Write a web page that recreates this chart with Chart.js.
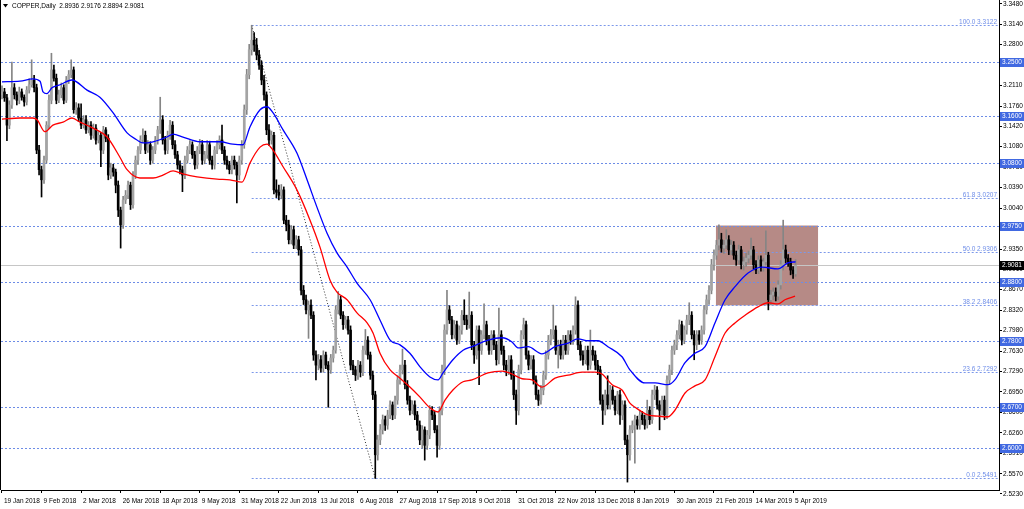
<!DOCTYPE html>
<html>
<head>
<meta charset="utf-8">
<script src="https://cdn.jsdelivr.net/npm/chart.js@4.4.1/dist/chart.umd.min.js"></script>
<style>
  html, body { margin: 0; padding: 0; background: #fff; }
  #wrap { width: 1024px; height: 509px; }
</style>
</head>
<body>
<div id="wrap"><canvas id="chart" width="1024" height="509"></canvas></div>
<script>
// COPPER daily, 19 Jan 2018 .. Apr 2019 (one entry per bar)
const opens = [
3.195,3.200,3.190,3.144,3.178,3.207,3.195,3.186,3.200,3.191,3.183,3.203,3.212,3.220,3.207,3.102,
3.069,3.052,3.085,3.144,3.186,3.237,3.223,3.186,3.195,3.207,3.186,3.220,3.229,3.237,3.170,3.173,
3.156,3.144,3.153,3.136,3.144,3.127,3.139,3.119,3.127,3.102,3.136,3.122,3.060,3.072,3.065,3.043,
3.001,2.976,3.018,3.026,3.043,3.010,3.060,3.085,3.102,3.119,3.127,3.102,3.111,3.085,3.102,3.119,
3.136,3.153,3.119,3.102,3.127,3.144,3.111,3.094,3.077,3.069,3.060,3.085,3.102,3.111,3.094,3.077,
3.102,3.111,3.085,3.094,3.111,3.085,3.077,3.102,3.111,3.119,3.102,3.085,3.077,3.069,3.085,3.077,
3.060,3.085,3.111,3.170,3.229,3.271,3.287,3.279,3.262,3.245,3.220,3.195,3.136,3.119,3.127,3.035,
3.031,3.026,3.035,2.984,2.976,2.951,2.968,2.942,2.951,2.934,2.866,2.850,2.833,2.841,2.824,2.757,
2.740,2.749,2.735,2.757,2.740,2.732,2.752,2.765,2.833,2.850,2.824,2.808,2.816,2.799,2.740,2.732,
2.723,2.740,2.728,2.765,2.782,2.757,2.723,2.690,2.589,2.614,2.631,2.648,2.639,2.656,2.673,2.656,
2.681,2.715,2.732,2.740,2.707,2.681,2.664,2.673,2.656,2.639,2.614,2.631,2.605,2.622,2.664,2.656,
2.631,2.605,2.664,2.732,2.799,2.833,2.816,2.791,2.808,2.782,2.799,2.824,2.816,2.808,2.824,2.774,
2.757,2.799,2.765,2.791,2.808,2.782,2.765,2.791,2.774,2.749,2.791,2.765,2.740,2.732,2.749,2.723,
2.690,2.664,2.732,2.791,2.808,2.757,2.740,2.749,2.715,2.690,2.681,2.698,2.723,2.757,2.782,2.791,
2.799,2.765,2.774,2.757,2.782,2.765,2.791,2.782,2.799,2.841,2.774,2.757,2.749,2.765,2.740,2.765,
2.757,2.740,2.732,2.681,2.664,2.690,2.673,2.698,2.681,2.664,2.690,2.656,2.673,2.614,2.589,2.631,
2.639,2.648,2.639,2.656,2.648,2.639,2.664,2.648,2.690,2.698,2.673,2.664,2.681,2.656,2.715,2.732,
2.765,2.774,2.791,2.808,2.782,2.799,2.816,2.824,2.791,2.774,2.791,2.782,2.799,2.833,2.850,2.866,
2.909,2.925,2.942,2.951,2.937,2.942,2.951,2.934,2.942,2.925,2.917,2.934,2.909,2.914,2.920,2.925,
2.934,2.909,2.900,2.917,2.904,2.914,2.925,2.850,2.858,2.863,2.856,2.875,2.909,2.934,2.920,2.914,2.900,2.8936
];
const highs = [
3.210,3.206,3.196,3.185,3.250,3.214,3.200,3.208,3.205,3.195,3.209,3.222,3.254,3.228,3.213,3.110,
3.075,3.092,3.150,3.195,3.265,3.245,3.230,3.203,3.215,3.212,3.226,3.236,3.254,3.242,3.182,3.180,
3.180,3.160,3.160,3.150,3.150,3.146,3.145,3.133,3.132,3.142,3.140,3.128,3.080,3.078,3.070,3.050,
3.006,3.024,3.034,3.050,3.048,3.066,3.092,3.108,3.126,3.138,3.134,3.118,3.116,3.108,3.125,3.142,
3.191,3.160,3.125,3.134,3.152,3.150,3.118,3.100,3.084,3.075,3.092,3.108,3.118,3.116,3.100,3.108,
3.120,3.118,3.100,3.118,3.117,3.092,3.108,3.118,3.126,3.144,3.108,3.092,3.083,3.092,3.092,3.082,
3.092,3.118,3.178,3.238,3.280,3.3122,3.300,3.290,3.270,3.252,3.228,3.200,3.145,3.134,3.132,3.052,
3.043,3.044,3.040,2.992,2.984,2.975,2.974,2.958,2.957,2.940,2.874,2.858,2.848,2.850,2.830,2.764,
2.758,2.756,2.764,2.762,2.746,2.758,2.772,2.840,2.864,2.856,2.830,2.822,2.822,2.806,2.748,2.738,
2.748,2.746,2.772,2.800,2.788,2.762,2.730,2.696,2.622,2.640,2.656,2.654,2.664,2.680,2.678,2.688,
2.722,2.740,2.767,2.748,2.714,2.688,2.680,2.680,2.662,2.646,2.638,2.636,2.630,2.672,2.670,2.662,
2.638,2.670,2.740,2.808,2.866,2.840,2.822,2.815,2.814,2.806,2.832,2.850,2.824,2.863,2.830,2.780,
2.806,2.806,2.798,2.843,2.814,2.790,2.798,2.798,2.780,2.836,2.798,2.772,2.748,2.756,2.756,2.730,
2.698,2.740,2.798,2.819,2.814,2.764,2.756,2.756,2.722,2.698,2.706,2.730,2.764,2.790,2.800,2.841,
2.806,2.782,2.782,2.790,2.790,2.798,2.798,2.806,2.855,2.848,2.780,2.764,2.772,2.772,2.799,2.772,
2.764,2.748,2.738,2.690,2.698,2.722,2.706,2.704,2.688,2.696,2.698,2.680,2.680,2.622,2.638,2.646,
2.656,2.654,2.664,2.662,2.656,2.681,2.670,2.698,2.706,2.704,2.680,2.688,2.688,2.722,2.740,2.772,
2.782,2.798,2.816,2.814,2.806,2.824,2.845,2.830,2.798,2.798,2.798,2.806,2.840,2.858,2.874,2.918,
2.934,2.950,2.976,2.962,2.950,2.968,2.958,2.950,2.948,2.932,2.942,2.940,2.922,2.928,2.932,2.954,
2.940,2.916,2.924,2.924,2.920,2.966,2.930,2.866,2.870,2.870,2.882,2.916,2.984,2.942,2.926,2.920,2.906,2.9176
];
const lows = [
3.188,3.184,3.118,3.138,3.172,3.188,3.178,3.180,3.186,3.176,3.178,3.198,3.208,3.200,3.096,3.060,
3.023,3.046,3.080,3.138,3.180,3.218,3.180,3.182,3.190,3.180,3.182,3.214,3.224,3.164,3.162,3.150,
3.138,3.139,3.130,3.131,3.120,3.122,3.112,3.114,3.074,3.096,3.116,3.052,3.054,3.058,3.030,2.990,
2.937,2.970,3.012,3.020,3.002,3.004,3.054,3.078,3.096,3.114,3.096,3.098,3.078,3.080,3.096,3.112,
3.130,3.112,3.095,3.096,3.120,3.104,3.088,3.070,3.062,3.032,3.054,3.080,3.096,3.088,3.070,3.071,
3.096,3.078,3.079,3.088,3.078,3.070,3.070,3.096,3.104,3.096,3.078,3.070,3.062,3.062,3.070,3.013,
3.052,3.078,3.105,3.162,3.222,3.262,3.268,3.254,3.238,3.212,3.186,3.128,3.110,3.112,3.028,3.022,
3.018,3.020,2.978,2.966,2.944,2.944,2.936,2.936,2.925,2.858,2.842,2.826,2.785,2.818,2.748,2.715,
2.732,2.728,2.728,2.734,2.669,2.726,2.745,2.760,2.826,2.818,2.800,2.802,2.792,2.732,2.724,2.714,
2.716,2.720,2.722,2.758,2.750,2.716,2.682,2.5491,2.580,2.606,2.624,2.630,2.632,2.650,2.648,2.650,
2.674,2.708,2.725,2.700,2.674,2.656,2.658,2.648,2.630,2.606,2.600,2.580,2.598,2.616,2.648,2.626,
2.585,2.598,2.656,2.724,2.792,2.810,2.784,2.785,2.775,2.776,2.792,2.808,2.800,2.802,2.766,2.743,
2.750,2.707,2.758,2.784,2.774,2.758,2.758,2.766,2.740,2.742,2.758,2.732,2.722,2.724,2.716,2.682,
2.640,2.656,2.725,2.784,2.750,2.732,2.733,2.708,2.682,2.672,2.674,2.690,2.716,2.750,2.774,2.784,
2.758,2.735,2.750,2.750,2.758,2.758,2.775,2.775,2.792,2.766,2.748,2.740,2.742,2.732,2.733,2.748,
2.732,2.724,2.674,2.640,2.656,2.666,2.666,2.674,2.656,2.658,2.640,2.648,2.606,2.543,2.580,2.626,
2.575,2.632,2.632,2.640,2.632,2.634,2.640,2.642,2.682,2.666,2.631,2.656,2.648,2.650,2.708,2.724,
2.758,2.766,2.784,2.774,2.776,2.792,2.808,2.784,2.749,2.766,2.775,2.775,2.792,2.826,2.842,2.860,
2.900,2.918,2.934,2.930,2.928,2.936,2.926,2.926,2.918,2.908,2.910,2.902,2.900,2.906,2.912,2.918,
2.902,2.894,2.894,2.898,2.898,2.908,2.833,2.842,2.850,2.848,2.850,2.868,2.900,2.912,2.906,2.892,2.886,2.8894
];
const closes = [
3.200,3.190,3.144,3.178,3.207,3.195,3.186,3.200,3.191,3.183,3.203,3.212,3.220,3.207,3.102,3.069,
3.052,3.085,3.144,3.186,3.237,3.223,3.186,3.195,3.207,3.186,3.220,3.229,3.237,3.170,3.173,3.156,
3.144,3.153,3.136,3.144,3.127,3.139,3.119,3.127,3.102,3.136,3.122,3.060,3.072,3.065,3.043,3.001,
2.976,3.018,3.026,3.043,3.010,3.060,3.085,3.102,3.119,3.127,3.102,3.111,3.085,3.102,3.119,3.136,
3.153,3.119,3.102,3.127,3.144,3.111,3.094,3.077,3.069,3.060,3.085,3.102,3.111,3.094,3.077,3.102,
3.111,3.085,3.094,3.111,3.085,3.077,3.102,3.111,3.119,3.102,3.085,3.077,3.069,3.085,3.077,3.060,
3.085,3.111,3.170,3.229,3.271,3.287,3.279,3.262,3.245,3.220,3.195,3.136,3.119,3.127,3.035,3.031,
3.026,3.035,2.984,2.976,2.951,2.968,2.942,2.951,2.934,2.866,2.850,2.833,2.841,2.824,2.757,2.740,
2.749,2.735,2.757,2.740,2.732,2.752,2.765,2.833,2.850,2.824,2.808,2.816,2.799,2.740,2.732,2.723,
2.740,2.728,2.765,2.782,2.757,2.723,2.690,2.589,2.614,2.631,2.648,2.639,2.656,2.673,2.656,2.681,
2.715,2.732,2.740,2.707,2.681,2.664,2.673,2.656,2.639,2.614,2.631,2.605,2.622,2.664,2.656,2.631,
2.605,2.664,2.732,2.799,2.833,2.816,2.791,2.808,2.782,2.799,2.824,2.816,2.808,2.824,2.774,2.757,
2.799,2.765,2.791,2.808,2.782,2.765,2.791,2.774,2.749,2.791,2.765,2.740,2.732,2.749,2.723,2.690,
2.664,2.732,2.791,2.808,2.757,2.740,2.749,2.715,2.690,2.681,2.698,2.723,2.757,2.782,2.791,2.799,
2.765,2.774,2.757,2.782,2.765,2.791,2.782,2.799,2.841,2.774,2.757,2.749,2.765,2.740,2.765,2.757,
2.740,2.732,2.681,2.664,2.690,2.673,2.698,2.681,2.664,2.690,2.656,2.673,2.614,2.589,2.631,2.639,
2.648,2.639,2.656,2.648,2.639,2.664,2.648,2.690,2.698,2.673,2.664,2.681,2.656,2.715,2.732,2.765,
2.774,2.791,2.808,2.782,2.799,2.816,2.824,2.791,2.774,2.791,2.782,2.799,2.833,2.850,2.866,2.909,
2.925,2.942,2.951,2.937,2.942,2.951,2.934,2.942,2.925,2.917,2.934,2.909,2.914,2.920,2.925,2.934,
2.909,2.900,2.917,2.904,2.914,2.925,2.850,2.858,2.863,2.856,2.875,2.909,2.934,2.920,2.914,2.900,2.894,2.9081
];

// moving averages: [bar index, price]
const blueMA = [[0,3.217],[7.3,3.218],[12.5,3.222],[15.4,3.218],[16.6,3.200],[18.2,3.197],[20.2,3.207],[23.5,3.212],
  [28.3,3.220],[34.4,3.203],[39.6,3.191],[44.9,3.165],[50.6,3.131],[54.6,3.119],[57,3.114],[61.1,3.116],[66.7,3.124],
  [69.2,3.129],[73.2,3.124],[80.1,3.116],[88.2,3.116],[93.4,3.112],[97.5,3.111],[100.3,3.141],[104.4,3.170],[107.2,3.175],
  [109.6,3.165],[113.7,3.136],[119.3,3.097],[123.4,3.052],[127.4,3.006],[131.5,2.962],[135.5,2.929],[139.6,2.905],
  [143.6,2.878],[148.9,2.850],[152.9,2.816],[157,2.782],[161,2.774],[165,2.760],[169.1,2.737],[173.1,2.720],[176.4,2.715],
  [178.4,2.727],[182.4,2.749],[186.5,2.765],[190.1,2.771],[196.6,2.782],[202.3,2.786],[206.3,2.779],[208.7,2.769],
  [212.8,2.771],[218.4,2.759],[223.7,2.771],[229,2.777],[233,2.784],[237.1,2.781],[241.1,2.781],[245.1,2.771],
  [250.8,2.754],[254,2.732],[260.1,2.710],[264.2,2.710],[269.4,2.707],[272.2,2.715],[276.3,2.744],[280.3,2.760],
  [284.4,2.771],[288.4,2.811],[292.5,2.850],[296.5,2.872],[301.8,2.895],[307.4,2.905],[313.9,2.902],[317.9,2.912],[321,2.914]];
const redMA = [[0,3.154],[7.3,3.156],[12.5,3.156],[14.2,3.153],[17.4,3.133],[20.6,3.144],[24.7,3.149],[28.3,3.156],
  [31.6,3.149],[36.8,3.139],[42.5,3.124],[47.7,3.090],[50.6,3.069],[55.8,3.055],[61.1,3.055],[65.1,3.060],[69.2,3.067],
  [73.2,3.062],[78.9,3.057],[87,3.053],[92.2,3.052],[97.1,3.048],[100.3,3.080],[104.4,3.107],[107.2,3.112],[109.6,3.102],
  [113.7,3.074],[119.3,3.035],[124.6,2.984],[128.6,2.939],[132.7,2.883],[135.5,2.863],[139.6,2.850],[143.6,2.828],
  [147.7,2.811],[150.1,2.794],[152.9,2.760],[157,2.732],[161,2.718],[165,2.703],[169.1,2.686],[173.1,2.668],[176.4,2.661],
  [179.2,2.681],[182.4,2.698],[186.5,2.712],[190.1,2.715],[196.6,2.727],[202.3,2.730],[206.3,2.725],[210.4,2.717],
  [214.4,2.715],[218.4,2.703],[223.7,2.718],[229,2.723],[234.6,2.728],[239.9,2.728],[242.7,2.725],[246.8,2.707],
  [250.8,2.698],[254,2.676],[256.1,2.669],[261.3,2.656],[265.4,2.654],[269.4,2.653],[272.2,2.664],[276.3,2.693],
  [280.3,2.705],[284.4,2.715],[288.4,2.754],[292.5,2.794],[296.5,2.811],[300.6,2.824],[305.8,2.838],[309.9,2.845],
  [313.9,2.843],[316.7,2.850],[320.8,2.856]];

const xTickIdx = [0,16,32,48,64,80,96,112,128,144,160,176,192,208,224,240,256,272,288,304,320];
const xTickLabels = ['19 Jan 2018','9 Feb 2018','2 Mar 2018','26 Mar 2018','18 Apr 2018','9 May 2018','31 May 2018',
  '22 Jun 2018','13 Jul 2018','6 Aug 2018','27 Aug 2018','17 Sep 2018','9 Oct 2018','31 Oct 2018','22 Nov 2018',
  '13 Dec 2018','8 Jan 2019','30 Jan 2019','21 Feb 2019','14 Mar 2019','5 Apr 2019'];
const yTickLabels = ['2.5230','2.5570','2.5910','2.6260','2.6600','2.6950','2.7290','2.7630','2.7980','2.8320','2.8670',
  '2.9010','2.9350','2.9700','3.0040','3.0390','3.0730','3.1080','3.1420','3.1760','3.2110','3.2450','3.2800','3.3140','3.3480'];

const levels = [3.2500, 3.1600, 3.0800, 2.9750, 2.8800, 2.7800, 2.6700, 2.6000];
const fibPct = ['100.0', '61.8', '50.0', '38.2', '23.6', '0.0'];
const fibVal = [3.3122, 3.0207, 2.9306, 2.8406, 2.7292, 2.5491];
const fibFrom = 101;
const diagIdx = [101, 151];
const diagVal = [3.3122, 2.5491];
const boxIdx = [288.8, 330.1];
const boxVal = [2.9750, 2.8406];

const last = closes.length - 1;
const lastPrice = closes[last];
const FONT = '"Liberation Sans", Arial, sans-serif';
const bull = '#a4a4a4', bullWick = '#858585', bear = '#000000';

const overlay = {
  id: 'overlay',
  beforeDatasetsDraw(chart) {
    const { ctx, chartArea: a, scales: { x, y } } = chart;
    ctx.save();
    ctx.beginPath();
    ctx.rect(a.left, a.top, a.right - a.left, a.bottom - a.top);
    ctx.clip();

    // rectangle object
    const bx0 = x.getPixelForValue(boxIdx[0]), bx1 = x.getPixelForValue(boxIdx[1]);
    const by0 = y.getPixelForValue(boxVal[0]), by1 = y.getPixelForValue(boxVal[1]);
    ctx.fillStyle = '#b68a86';
    ctx.fillRect(bx0, by0, bx1 - bx0, by1 - by0);

    ctx.lineWidth = 1;
    // current price line
    const py = Math.round(y.getPixelForValue(lastPrice)) + 0.5;
    ctx.strokeStyle = '#c6c6c6';
    ctx.beginPath(); ctx.moveTo(a.left, py); ctx.lineTo(a.right, py); ctx.stroke();

    // horizontal levels
    ctx.setLineDash([2, 2]);
    ctx.strokeStyle = '#6d8ce6';
    levels.forEach(v => {
      const ly = Math.round(y.getPixelForValue(v)) + 0.5;
      ctx.beginPath(); ctx.moveTo(a.left, ly); ctx.lineTo(a.right, ly); ctx.stroke();
    });
    // fibo levels
    ctx.strokeStyle = '#7c98ea';
    const fx = x.getPixelForValue(fibFrom);
    fibVal.forEach(v => {
      const ly = Math.round(y.getPixelForValue(v)) + 0.5;
      ctx.beginPath(); ctx.moveTo(fx, ly); ctx.lineTo(a.right, ly); ctx.stroke();
    });
    // fibo trend line
    ctx.setLineDash([1, 2]);
    ctx.strokeStyle = '#333';
    ctx.beginPath();
    ctx.moveTo(x.getPixelForValue(diagIdx[0]), y.getPixelForValue(diagVal[0]));
    ctx.lineTo(x.getPixelForValue(diagIdx[1]), y.getPixelForValue(diagVal[1]));
    ctx.stroke();
    ctx.restore();
  },
  afterDraw(chart) {
    const { ctx, chartArea: a, scales: { y } } = chart;
    ctx.save();
    ctx.font = '6.5px ' + FONT;
    ctx.textBaseline = 'bottom';
    ctx.textAlign = 'right';
    ctx.fillStyle = '#6f8ee8';
    fibVal.forEach((v, i) => {
      const ly = Math.round(y.getPixelForValue(v));
      ctx.fillText(fibPct[i] + ' ' + v.toFixed(4), a.right - 2, ly);
    });

    // price tags on the axis
    ctx.textAlign = 'left';
    ctx.textBaseline = 'middle';
    levels.forEach(v => {
      const ly = Math.round(y.getPixelForValue(v));
      ctx.fillStyle = '#4169e1';
      ctx.fillRect(a.right + 1, ly - 4, 24, 9);
      ctx.fillStyle = '#fff';
      ctx.fillText(v.toFixed(4), a.right + 3, ly + 0.5);
    });
    const py = Math.round(y.getPixelForValue(lastPrice));
    ctx.fillStyle = '#000';
    ctx.fillRect(a.right + 1, py - 4, 24, 9);
    ctx.fillStyle = '#fff';
    ctx.fillText(lastPrice.toFixed(4), a.right + 3, py + 0.5);

    // left frame
    ctx.strokeStyle = '#000';
    ctx.beginPath(); ctx.moveTo(0.5, 0); ctx.lineTo(0.5, a.bottom); ctx.stroke();

    // header
    ctx.fillStyle = '#000';
    ctx.beginPath(); ctx.moveTo(3, 4); ctx.lineTo(8, 4); ctx.lineTo(5.5, 7.5); ctx.closePath(); ctx.fill();
    ctx.fillText('COPPER,Daily  ' + opens[last].toFixed(4) + ' ' + highs[last].toFixed(4) + ' ' +
      lows[last].toFixed(4) + ' ' + closes[last].toFixed(4), 12, 6);
    ctx.restore();
  }
};

const isUp = i => closes[i] >= opens[i];

new Chart(document.getElementById('chart'), {
  type: 'bar',
  data: {
    datasets: [
      {
        type: 'line', order: 0,
        data: blueMA.map(p => ({ x: p[0], y: p[1] })),
        borderColor: '#0000ff', borderWidth: 1.3, pointRadius: 0,
        cubicInterpolationMode: 'monotone'
      },
      {
        type: 'line', order: 0,
        data: redMA.map(p => ({ x: p[0], y: p[1] })),
        borderColor: '#ff0000', borderWidth: 1.3, pointRadius: 0,
        cubicInterpolationMode: 'monotone'
      },
      {
        order: 1, grouped: false, barThickness: 2, minBarLength: 1,
        data: opens.map((o, i) => ({ x: i, y: [o, closes[i]] })),
        backgroundColor: c => isUp(c.dataIndex) ? bull : bear
      },
      {
        order: 2, grouped: false, barThickness: 1,
        data: lows.map((l, i) => ({ x: i, y: [l, highs[i]] })),
        backgroundColor: c => isUp(c.dataIndex) ? bullWick : bear
      }
    ]
  },
  options: {
    responsive: false,
    animation: false,
    devicePixelRatio: 1,
    layout: { padding: { left: 1, top: 0, right: 0, bottom: 0 } },
    plugins: { legend: { display: false }, tooltip: { enabled: false } },
    scales: {
      x: {
        type: 'linear', min: -0.4, max: 403.3, offset: false,
        afterBuildTicks: s => { s.ticks = xTickIdx.map(v => ({ value: v })); },
        afterFit: s => { s.height = 19; s.paddingLeft = 0; s.paddingRight = 0; },
        ticks: {
          autoSkip: false, maxRotation: 0, align: 'start', padding: 4, labelOffset: 2, color: '#000',
          font: { size: 6.5, family: FONT },
          callback: (v, i) => xTickLabels[i]
        },
        grid: { drawOnChartArea: false, offset: false, tickLength: 3, color: '#000' },
        border: { color: '#000' }
      },
      y: {
        position: 'right', min: 2.5297, max: 3.3547, beginAtZero: false,
        afterBuildTicks: s => { s.ticks = yTickLabels.map(t => ({ value: parseFloat(t) })); },
        afterFit: s => { s.width = 25; s.paddingTop = 0; s.paddingBottom = 0; },
        ticks: {
          padding: 1, color: '#000',
          font: { size: 6.5, family: FONT },
          callback: (v, i) => yTickLabels[i]
        },
        grid: { drawOnChartArea: false, tickLength: 3, color: '#000' },
        border: { color: '#000' }
      }
    }
  },
  plugins: [overlay]
});
</script>
</body>
</html>
